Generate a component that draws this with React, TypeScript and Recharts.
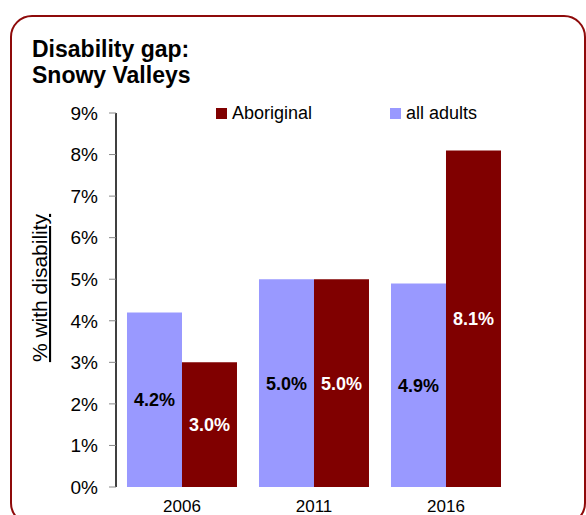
import { BarChart, Bar, XAxis, YAxis, LabelList } from "recharts";

const years = ["2006", "2011", "2016"];
const allAdults = [4.2, 5.0, 4.9];
const aboriginal = [3.0, 5.0, 8.1];
const yTicks = [0, 1, 2, 3, 4, 5, 6, 7, 8, 9];
const legendItems = [
  { name: "Aboriginal", color: "#800000" },
  { name: "all adults", color: "#9999FF" },
];

const font = "'Liberation Sans', Arial, sans-serif";

const data = years.map((year, i) => ({
  year,
  allAdults: allAdults[i],
  aboriginal: aboriginal[i],
}));

const pct = (v: any) => `${Number(v).toFixed(1)}%`;

function LegendBox() {
  return (
    <div style={{ position: "absolute", left: 0, top: 100, width: 586, height: 26, fontFamily: font, fontSize: 18, color: "#000" }}>
      {legendItems.map((item, i) => (
        <div
          key={item.name}
          style={{
            position: "absolute",
            left: i === 0 ? 216 : 390,
            top: 0,
            height: 26,
            display: "flex",
            alignItems: "center",
          }}
        >
          <span style={{ width: 11, height: 11, background: item.color, marginRight: 5 }} />
          <span>{item.name}</span>
        </div>
      ))}
    </div>
  );
}

function YLabel({ viewBox }: any) {
  const cy = viewBox.y + viewBox.height / 2 - 12;
  return (
    <text
      x={47}
      y={cy}
      transform={`rotate(-90, 47, ${cy})`}
      textAnchor="middle"
      fontFamily={font}
      fontSize={21}
      fill="#000"
      textDecoration="underline"
    >
      % with disability
    </text>
  );
}

export default function App() {
  return (
    <div
      style={{
        position: "fixed",
        left: 0,
        top: 0,
        width: 586,
        height: 515,
        overflow: "hidden",
        background: "#fff",
      }}
    >
      <div
        style={{
          position: "absolute",
          left: 10,
          top: 15,
          width: 576,
          height: 510,
          border: "2.5px solid #8E0A0A",
          borderRadius: 22,
          boxSizing: "border-box",
        }}
      />
      <div
        style={{
          position: "absolute",
          left: 32,
          top: 36,
          fontFamily: font,
          fontWeight: "bold",
          fontSize: 23,
          lineHeight: "26px",
          color: "#000",
        }}
      >
        Disability gap:
        <br />
        Snowy Valleys
      </div>
      <LegendBox />
      <div style={{ position: "absolute", left: 0, top: 0 }}>
        <BarChart
          width={586}
          height={515}
          data={data}
          margin={{ top: 113, right: 74, bottom: 0, left: 0 }}
          barCategoryGap="8.33%"
          barGap={0}
        >
          <XAxis
            dataKey="year"
            axisLine={false}
            tickLine={false}
            tickSize={6}
            tickMargin={7}
            height={28}
            tick={{ fontSize: 17, fontFamily: font, fill: "#000" }}
          />
          <YAxis
            domain={[0, 9]}
            ticks={yTicks}
            interval={0}
            width={116}
            axisLine={{ stroke: "#000", strokeWidth: 1.5 }}
            tickLine={{ stroke: "#888" }}
            tickSize={7}
            tickMargin={11}
            tickFormatter={(v: number) => `${v}%`}
            tick={{ fontSize: 19, fontFamily: font, fill: "#000" }}
            label={<YLabel />}
          />
          <Bar dataKey="allAdults" name="all adults" fill="#9999FF" isAnimationActive={false}>
            <LabelList
              dataKey="allAdults"
              position="center"
              formatter={pct}
              fill="#000"
              fontSize={18}
              fontWeight="bold"
              fontFamily={font}
            />
          </Bar>
          <Bar dataKey="aboriginal" name="Aboriginal" fill="#800000" isAnimationActive={false}>
            <LabelList
              dataKey="aboriginal"
              position="center"
              formatter={pct}
              fill="#fff"
              fontSize={18}
              fontWeight="bold"
              fontFamily={font}
            />
          </Bar>
        </BarChart>
      </div>
    </div>
  );
}
